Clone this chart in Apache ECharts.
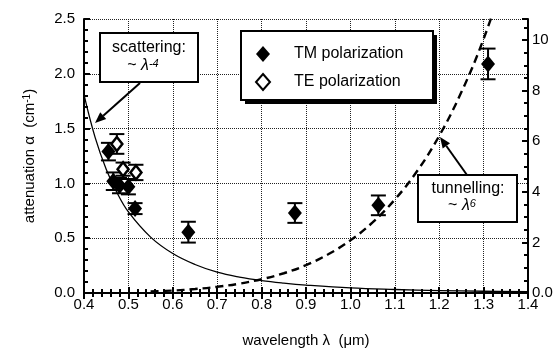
<!DOCTYPE html>
<html>
<head>
<meta charset="utf-8">
<script src="https://cdn.jsdelivr.net/npm/echarts@6/dist/echarts.min.js"></script>
<style>
  html, body { margin: 0; padding: 0; background: #fff; }
  #chart { width: 559px; height: 356px; }
</style>
</head>
<body>
<div id="chart"></div>
<script>
// measured points (wavelength in um, attenuation in cm^-1, +/- error)
const tmLambda = [0.455, 0.466, 0.48, 0.50, 0.515, 0.635, 0.875, 1.063, 1.31];
const tmAtten = [1.29, 1.02, 0.98, 0.97, 0.77, 0.555, 0.73, 0.80, 2.09];
const tmError = [0.08, 0.08, 0.07, 0.07, 0.05, 0.095, 0.09, 0.09, 0.14];

const teLambda = [0.474, 0.488, 0.517];
const teAtten = [1.36, 1.13, 1.10];
const teError = [0.09, 0.06, 0.07];

// scattering fit (~ lambda^-4), left axis
const scatLambda = [0.40, 0.425, 0.45, 0.475, 0.50, 0.55, 0.60, 0.65, 0.70, 0.75, 0.80, 0.85, 0.90, 1.0, 1.1, 1.2, 1.3, 1.4];
const scatFit = [1.81, 1.42, 1.13, 0.91, 0.74, 0.51, 0.36, 0.26, 0.19, 0.145, 0.113, 0.09, 0.072, 0.046, 0.032, 0.022, 0.016, 0.012];

// tunnelling fit (~ lambda^6), right axis
const tunLambda = [0.55, 0.60, 0.65, 0.70, 0.75, 0.80, 0.85, 0.90, 0.95, 1.0, 1.05, 1.1, 1.15, 1.2, 1.25, 1.3, 1.35];
const tunFit = [0.058, 0.097, 0.157, 0.245, 0.37, 0.545, 0.78, 1.10, 1.53, 2.08, 2.79, 3.69, 4.81, 6.21, 7.94, 10.04, 12.6];

const xTicks = { min: 0.4, max: 1.4, step: 0.1 };
const leftTicks = { min: 0, max: 2.5, step: 0.5 };
const rightTicks = { min: 0, max: 10.83, step: 2 };

const FONT = "'Liberation Sans', Arial, sans-serif";

const pairs = (xs, ys) => xs.map((x, i) => [x, ys[i]]);
const triples = (xs, ys, es) => xs.map((x, i) => [x, ys[i], es[i]]);

function errorBars(params, api) {
  const x = api.value(0), y = api.value(1), e = api.value(2);
  const top = api.coord([x, y + e]);
  const bot = api.coord([x, y - e]);
  const hw = 7.5;
  const st = { stroke: "#000", lineWidth: 2 };
  return {
    type: "group",
    children: [
      { type: "line", shape: { x1: top[0], y1: top[1], x2: bot[0], y2: bot[1] }, style: st },
      { type: "line", shape: { x1: top[0] - hw, y1: top[1], x2: top[0] + hw, y2: top[1] }, style: st },
      { type: "line", shape: { x1: bot[0] - hw, y1: bot[1], x2: bot[0] + hw, y2: bot[1] }, style: st },
    ],
  };
}

function arrow(x1, y1, x2, y2) {
  const dx = x2 - x1, dy = y2 - y1;
  const len = Math.sqrt(dx * dx + dy * dy);
  const ux = dx / len, uy = dy / len;
  const bx = x2 - ux * 11, by = y2 - uy * 11;
  const px = -uy * 4.5, py = ux * 4.5;
  return [
    { type: "line", shape: { x1: x1, y1: y1, x2: bx, y2: by }, style: { stroke: "#000", lineWidth: 2 }, z: 20 },
    { type: "polygon", shape: { points: [[x2, y2], [bx + px, by + py], [bx - px, by - py]] }, style: { fill: "#000" }, z: 20 },
  ];
}

const axisLine = { lineStyle: { color: "#000", width: 2 } };
const labelStyle = { color: "#000", fontSize: 15, fontFamily: FONT };
const tickStyle = { color: "#000", width: 2 };

const chart = echarts.init(document.getElementById("chart"));

const option = {
  animation: false,
  backgroundColor: "#fff",
  grid: { left: 84, right: 31, top: 19, bottom: 63 },
  legend: {
    data: ["TM polarization", "TE polarization"],
    orient: "vertical",
    left: 241,
    top: 31,
    padding: [15, 10, 10, 14],
    itemWidth: 14,
    itemHeight: 16,
    itemGap: 11,
    textStyle: { color: "#000", fontSize: 16, fontFamily: FONT, padding: [0, 0, 0, 19] },
    z: 6,
  },
  xAxis: [
    {
      type: "value",
      min: xTicks.min,
      max: xTicks.max,
      interval: xTicks.step,
      name: "wavelength λ  (μm)",
      nameLocation: "middle",
      nameGap: 40,
      nameTextStyle: { color: "#000", fontSize: 15, fontFamily: FONT },
      axisLine: axisLine,
      axisTick: { inside: true, length: 6, lineStyle: tickStyle },
      minorTick: { show: true, splitNumber: 5, length: 4, lineStyle: tickStyle },
      axisLabel: Object.assign({ margin: 4, formatter: (v) => v.toFixed(1) }, labelStyle),
      splitLine: { show: true, lineStyle: { color: "#222", type: "dotted", width: 1 } },
    },
    {
      type: "value",
      position: "top",
      min: xTicks.min,
      max: xTicks.max,
      interval: xTicks.step,
      axisLine: axisLine,
      axisTick: { inside: true, length: 6, lineStyle: tickStyle },
      minorTick: { show: true, splitNumber: 5, length: 4, lineStyle: tickStyle },
      axisLabel: { show: false },
      splitLine: { show: false },
    },
  ],
  yAxis: [
    {
      type: "value",
      min: leftTicks.min,
      max: leftTicks.max,
      interval: leftTicks.step,
      name: "attenuation α  (cm{sup|-1})",
      nameLocation: "middle",
      nameGap: 47,
      nameTextStyle: {
        color: "#000",
        fontSize: 15,
        fontFamily: FONT,
        rich: { sup: { fontSize: 10, fontFamily: FONT, color: "#000", verticalAlign: "top", lineHeight: 10 } },
      },
      axisLine: axisLine,
      axisTick: { inside: true, length: 6, lineStyle: tickStyle },
      minorTick: { show: true, splitNumber: 5, length: 4, lineStyle: tickStyle },
      axisLabel: Object.assign({ margin: 9, formatter: (v) => v.toFixed(1) }, labelStyle),
      splitLine: { show: true, lineStyle: { color: "#222", type: "dotted", width: 1 } },
    },
    {
      type: "value",
      position: "right",
      min: rightTicks.min,
      max: rightTicks.max,
      interval: rightTicks.step,
      axisLine: axisLine,
      axisTick: { inside: true, length: 6, lineStyle: tickStyle },
      minorTick: { show: true, splitNumber: 4, length: 4, lineStyle: tickStyle },
      axisLabel: Object.assign(
        {
          margin: 4,
          showMaxLabel: false,
          formatter: (v) => (v === 0 ? "0.0" : v % 2 === 0 ? String(v) : ""),
        },
        labelStyle
      ),
      splitLine: { show: false },
    },
  ],
  series: [
    {
      name: "scattering fit",
      type: "line",
      data: pairs(scatLambda, scatFit),
      smooth: 0.4,
      showSymbol: false,
      lineStyle: { color: "#000", width: 1.3 },
      z: 3,
    },
    {
      name: "tunnelling fit",
      type: "line",
      yAxisIndex: 1,
      data: pairs(tunLambda, tunFit),
      smooth: 0.4,
      showSymbol: false,
      clip: true,
      lineStyle: { color: "#000", width: 2.4, type: [8, 5] },
      z: 3,
    },
    {
      name: "tm err",
      type: "custom",
      renderItem: errorBars,
      data: triples(tmLambda, tmAtten, tmError),
      z: 4,
    },
    {
      name: "te err",
      type: "custom",
      renderItem: errorBars,
      data: triples(teLambda, teAtten, teError),
      z: 4,
    },
    {
      name: "TM polarization",
      type: "scatter",
      data: pairs(tmLambda, tmAtten),
      symbol: "diamond",
      symbolSize: [14, 17],
      itemStyle: { color: "#000", opacity: 1 },
      z: 5,
    },
    {
      name: "TE polarization",
      type: "scatter",
      data: pairs(teLambda, teAtten),
      symbol: "diamond",
      symbolSize: [11, 14],
      itemStyle: { color: "#fff", borderColor: "#000", borderWidth: 2.5, opacity: 1 },
      z: 6,
    },
  ],
  graphic: [
    // legend frame with drop shadow
    {
      type: "rect",
      shape: { x: 245, y: 35, width: 192, height: 69 },
      style: { fill: "#000" },
      z: 2,
    },
    {
      type: "rect",
      shape: { x: 241, y: 31, width: 192, height: 69 },
      style: { fill: "#fff", stroke: "#000", lineWidth: 2 },
      z: 3,
    },
    {
      type: "rect",
      shape: { x: 100, y: 33, width: 98, height: 49 },
      style: { fill: "#fff", stroke: "#000", lineWidth: 2 },
      z: 15,
    },
    {
      type: "text",
      x: 149,
      y: 48,
      style: { text: "scattering:", font: "16px " + FONT, fill: "#000", align: "center", verticalAlign: "middle" },
      z: 16,
    },
    {
      type: "text",
      x: 143,
      y: 66,
      style: {
        text: "~ {it|λ}{sup|-4}",
        font: "16px " + FONT,
        fill: "#000",
        align: "center",
        verticalAlign: "middle",
        rich: {
          it: { font: "italic 16px " + FONT, fill: "#000" },
          sup: { font: "italic 11px " + FONT, fill: "#000", verticalAlign: "top", lineHeight: 14 },
        },
      },
      z: 16,
    },
    {
      type: "rect",
      shape: { x: 418, y: 175, width: 99, height: 47 },
      style: { fill: "#fff", stroke: "#000", lineWidth: 2 },
      z: 15,
    },
    {
      type: "text",
      x: 468,
      y: 189,
      style: { text: "tunnelling:", font: "16px " + FONT, fill: "#000", align: "center", verticalAlign: "middle" },
      z: 16,
    },
    {
      type: "text",
      x: 462,
      y: 206,
      style: {
        text: "~ {it|λ}{sup|6}",
        font: "16px " + FONT,
        fill: "#000",
        align: "center",
        verticalAlign: "middle",
        rich: {
          it: { font: "italic 16px " + FONT, fill: "#000" },
          sup: { font: "italic 11px " + FONT, fill: "#000", verticalAlign: "top", lineHeight: 14 },
        },
      },
      z: 16,
    },
  ]
    .concat(arrow(140, 83, 95, 123))
    .concat(arrow(467, 175, 440, 137)),
};

chart.setOption(option);
</script>
</body>
</html>
